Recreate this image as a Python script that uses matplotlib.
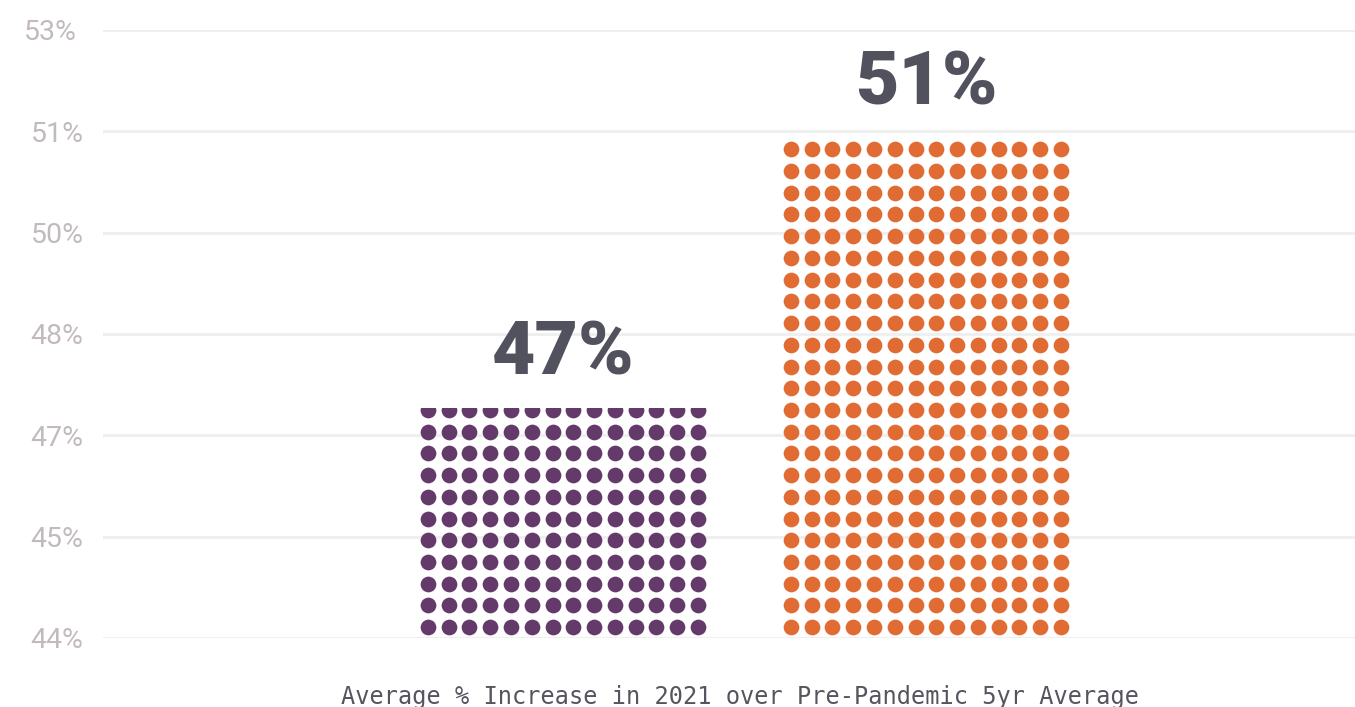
import numpy as np
import matplotlib
matplotlib.use("Agg")
import matplotlib.pyplot as plt
import matplotlib.transforms as mtrans
from matplotlib.patches import Rectangle

# ---- data ----
categories = ["Group A", "Group B"]
values = [47.4, 51.4]
value_labels = ["47%", "51%"]
colors = ["#633a69", "#e06b33"]
y_ticks = [44, 45.5, 47, 48.5, 50, 51.5, 53]
y_tick_labels = ["44%", "45%", "47%", "48%", "50%", "51%", "53%"]
x_title = "Average % Increase in 2021 over Pre-Pandemic 5yr Average"

# ---- style ----
W, H, DPI = 1355, 707, 100
fig = plt.figure(figsize=(W / DPI, H / DPI), dpi=DPI)
ax = fig.add_axes([103 / W, (H - 638) / H, (W - 103) / W, (638 - 30) / H])
ymin, ymax = 44, 53
ax.set_ylim(ymin, ymax)
ax.set_xlim(-1.267, 2.182)

for s in ax.spines.values():
    s.set_visible(False)
ax.set_xticks([])
ax.set_yticks(y_ticks)
ax.set_yticklabels(y_tick_labels, fontfamily="Roboto", fontsize=20.5, color="#c2babd")
ax.tick_params(axis="y", length=0, pad=14)
ax.yaxis.grid(True, color="#efefef", linewidth=2.2, zorder=0)
ax.set_axisbelow(True)
# top label sits slightly further left in the reference
top_lab = ax.get_yticklabels()[-1]
top_lab.set_transform(top_lab.get_transform() +
                      mtrans.ScaledTranslation(-7 / DPI, 0, fig.dpi_scale_trans))

ncols = 14
col_step = 0.0572
row_step = 0.3215
bar_w = 0.79
dot_s = 128

for i, (v, lab, c) in enumerate(zip(values, value_labels, colors)):
    nrows = int(np.ceil((v - ymin) / row_step)) + 1
    xs = i + (np.arange(ncols) - (ncols - 1) / 2) * col_step
    ys = ymin + row_step / 2 + np.arange(nrows) * row_step
    X, Y = np.meshgrid(xs, ys)
    sc = ax.scatter(X.ravel(), Y.ravel(), s=dot_s, color=c, linewidths=0, zorder=3)
    clip = Rectangle((i - bar_w / 2, ymin), bar_w, v - ymin, transform=ax.transData)
    sc.set_clip_path(clip)
    ax.annotate(lab, xy=(i, v), xytext=(0, 24), textcoords="offset points",
                ha="center", va="baseline", fontfamily="Roboto", fontweight="black",
                fontsize=54, color="#52525e")

fig.text(739.5 / W, 1 - 704 / H, x_title, ha="center", va="baseline",
         fontfamily="DejaVu Sans Mono", fontsize=17, color="#55555f")

fig.savefig("out.png", dpi=DPI, facecolor="white")
